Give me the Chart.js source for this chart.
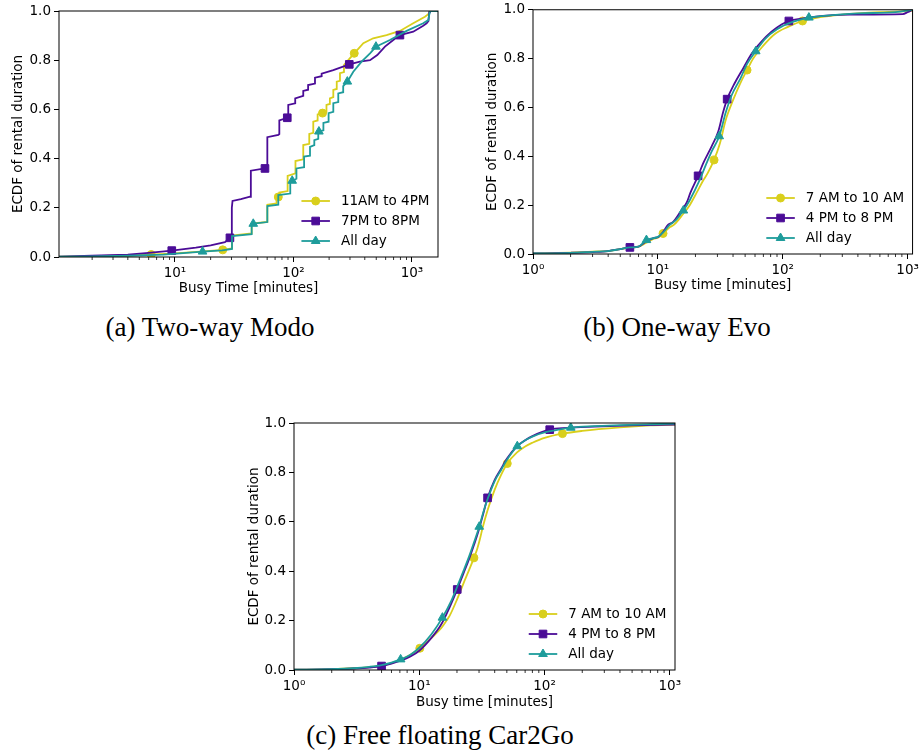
<!DOCTYPE html>
<html><head><meta charset="utf-8">
<script src="https://cdn.jsdelivr.net/npm/chart.js@4.4.1/dist/chart.umd.min.js"></script>
<style>
html,body{margin:0;padding:0;background:#fff;width:922px;height:750px;overflow:hidden;position:relative}
canvas{position:absolute}
.cap{position:absolute;font-family:"Liberation Serif",serif;font-size:27px;line-height:27px;color:#000;white-space:nowrap;transform:translateX(-50%)}
</style></head><body>
<canvas id="ca" width="460" height="300" style="left:0;top:0"></canvas>
<canvas id="cb" width="461" height="300" style="left:461px;top:0"></canvas>
<canvas id="cc" width="460" height="320" style="left:230px;top:400px"></canvas>
<div class="cap" style="left:210px;top:314px">(a) Two-way Modo</div>
<div class="cap" style="left:677px;top:314px">(b) One-way Evo</div>
<div class="cap" style="left:440px;top:722px">(c) Free floating Car2Go</div>
<script>
// ---------- DATA ----------
const Y_TICKS = [0, 0.2, 0.4, 0.6, 0.8, 1.0];

// (a) Two-way Modo
const modoLabels = ['11AM to 4PM', '7PM to 8PM', 'All day'];
const modoMiddayX = [1.05, 2, 4, 6.2, 10, 16.3, 25.3, 30.3, 30.3, 44.4, 44.4, 60.2, 60.2, 72, 72, 76, 76, 89.3, 89.3, 104, 104, 121, 121, 136, 136, 147, 147, 160, 160, 190, 190, 203, 203, 217, 217, 232, 232, 247, 247, 267, 267, 290, 326, 389, 471, 611, 792, 1026, 1288, 1374, 1420, 1660];
const modoMiddayY = [0.001, 0.003, 0.006, 0.01, 0.015, 0.022, 0.029, 0.035, 0.087, 0.096, 0.136, 0.143, 0.212, 0.218, 0.243, 0.245, 0.262, 0.268, 0.33, 0.34, 0.39, 0.397, 0.455, 0.46, 0.5, 0.505, 0.55, 0.555, 0.58, 0.59, 0.618, 0.622, 0.645, 0.65, 0.679, 0.683, 0.713, 0.716, 0.747, 0.752, 0.78, 0.80, 0.828, 0.869, 0.889, 0.902, 0.919, 0.95, 0.977, 0.987, 1.0, 1.0];
const modoMiddayMarkX = [6.3, 25.3, 74.5, 176, 326];
const modoMiddayMarkY = [0.01, 0.029, 0.244, 0.585, 0.828];

const modoEveningX = [1.05, 2, 4, 6, 9.4, 15, 20, 26.4, 29.1, 30, 30.2, 30.6, 36, 43, 43.7, 43.7, 57.5, 60.2, 60.2, 74.5, 76, 76, 88.7, 90.4, 90.4, 103.5, 103.5, 121, 121, 133, 133, 152, 152, 173, 173, 217, 296, 364, 443, 510, 592, 696, 792, 1026, 1245, 1330, 1380, 1400, 1420, 1660];
const modoEveningY = [0.001, 0.005, 0.01, 0.017, 0.026, 0.038, 0.047, 0.06, 0.078, 0.088, 0.2, 0.228, 0.235, 0.245, 0.25, 0.351, 0.36, 0.362, 0.487, 0.496, 0.5, 0.555, 0.566, 0.57, 0.618, 0.625, 0.645, 0.655, 0.675, 0.68, 0.699, 0.705, 0.729, 0.735, 0.745, 0.76, 0.783, 0.794, 0.8, 0.821, 0.855, 0.882, 0.902, 0.916, 0.94, 0.95, 0.96, 0.995, 1.0, 1.0];
const modoEveningMarkX = [9.4, 29.1, 57.5, 88.7, 296, 792];
const modoEveningMarkY = [0.026, 0.078, 0.36, 0.566, 0.783, 0.902];

const modoAllX = [1.05, 2, 4, 8, 17.1, 25, 30.3, 30.3, 44.4, 44.4, 60.2, 60.2, 74.5, 74.5, 94, 94, 106, 106, 123, 123, 138, 138, 150, 150, 162, 162, 179, 179, 198, 198, 217, 217, 239, 239, 263, 263, 285, 320, 376, 443, 497, 652, 902, 1245, 1374, 1420, 1660];
const modoAllY = [0.001, 0.002, 0.005, 0.01, 0.022, 0.027, 0.033, 0.085, 0.093, 0.135, 0.142, 0.207, 0.213, 0.252, 0.258, 0.305, 0.318, 0.36, 0.365, 0.408, 0.412, 0.448, 0.455, 0.475, 0.48, 0.51, 0.515, 0.545, 0.55, 0.585, 0.59, 0.625, 0.63, 0.665, 0.67, 0.695, 0.713, 0.753, 0.794, 0.828, 0.855, 0.882, 0.919, 0.95, 0.963, 1.0, 1.0];
const modoAllMarkX = [17.1, 45.8, 97.6, 164, 285, 497];
const modoAllMarkY = [0.022, 0.135, 0.31, 0.51, 0.713, 0.855];

// (b) One-way Evo
const evoLabels = ['7 AM to 10 AM', '4 PM to 8 PM', 'All day'];
const evoMorningX = [1, 2, 3, 4, 5, 6, 7, 8, 9.2, 10.1, 11, 12.5, 13.5, 16, 18, 20.4, 23, 25, 28.2, 31.3, 35, 40, 45.8, 51.8, 58, 69, 86, 110, 144, 200, 300, 600, 1096];
const evoMorningY = [0.002, 0.006, 0.01, 0.012, 0.02, 0.026, 0.03, 0.045, 0.062, 0.068, 0.084, 0.11, 0.12, 0.165, 0.2, 0.25, 0.3, 0.33, 0.385, 0.45, 0.55, 0.63, 0.7, 0.753, 0.8, 0.85, 0.9, 0.93, 0.954, 0.97, 0.98, 0.99, 0.995];
const evoMorningMarkX = [11, 28.2, 51.8, 144];
const evoMorningMarkY = [0.084, 0.385, 0.753, 0.954];

const evoEveningX = [1, 2, 3, 4, 5, 6, 7, 8, 9.2, 10.1, 11, 12.1, 13.2, 15.5, 17, 18.2, 21, 23, 26.9, 30.4, 33.3, 35.9, 41.3, 48.2, 56.3, 67.6, 81.3, 97.8, 112, 146, 210, 344, 916, 1000, 1096];
const evoEveningY = [0.002, 0.005, 0.008, 0.012, 0.02, 0.027, 0.03, 0.05, 0.065, 0.07, 0.09, 0.12, 0.13, 0.18, 0.21, 0.25, 0.32, 0.37, 0.44, 0.5, 0.58, 0.634, 0.7, 0.76, 0.82, 0.87, 0.91, 0.94, 0.954, 0.965, 0.975, 0.98, 0.982, 0.99, 1.0];
const evoEveningMarkX = [5.97, 21, 35.9, 112];
const evoEveningMarkY = [0.027, 0.32, 0.634, 0.954];

const evoAllX = [1, 2, 3, 4, 5, 6, 7, 8.1, 10, 11, 12.5, 14, 16, 18, 21.5, 24, 27, 31, 35, 39, 46, 52, 60.8, 72, 90, 120, 162, 250, 400, 800, 1096];
const evoAllY = [0.002, 0.005, 0.009, 0.012, 0.02, 0.027, 0.03, 0.057, 0.07, 0.088, 0.12, 0.14, 0.178, 0.22, 0.3, 0.36, 0.42, 0.482, 0.58, 0.65, 0.72, 0.78, 0.83, 0.88, 0.92, 0.95, 0.968, 0.978, 0.985, 0.99, 1.0];
const evoAllMarkX = [8.1, 16, 31, 60.8, 162];
const evoAllMarkY = [0.057, 0.178, 0.482, 0.83, 0.968];

// (c) Free floating Car2Go
const c2gLabels = ['7 AM to 10 AM', '4 PM to 8 PM', 'All day'];
const c2gMorningX = [1, 2, 3, 4, 5, 6, 7, 8.5, 10.1, 12.5, 15, 16.5, 17.5, 20, 22.5, 25, 27.3, 29, 30.5, 32, 35, 40, 45, 50.4, 60, 70, 80, 100, 139, 200, 400, 700, 1100];
const c2gMorningY = [0.001, 0.003, 0.007, 0.012, 0.018, 0.028, 0.04, 0.062, 0.088, 0.13, 0.17, 0.2, 0.22, 0.285, 0.35, 0.405, 0.454, 0.49, 0.53, 0.575, 0.645, 0.73, 0.79, 0.836, 0.88, 0.905, 0.92, 0.94, 0.957, 0.968, 0.982, 0.99, 0.994];
const c2gMorningMarkX = [10.1, 27.3, 50.4, 139];
const c2gMorningMarkY = [0.088, 0.454, 0.836, 0.957];

const c2gEveningX = [1, 2, 3, 4, 5, 6, 7, 8.5, 10, 12.5, 15, 17.5, 20.1, 22.5, 25, 27.5, 30, 32.5, 35.1, 40, 45, 50, 60, 70, 80, 110, 150, 250, 500, 1100];
const c2gEveningY = [0.001, 0.003, 0.006, 0.01, 0.016, 0.026, 0.037, 0.055, 0.078, 0.13, 0.185, 0.255, 0.326, 0.39, 0.45, 0.51, 0.57, 0.635, 0.697, 0.77, 0.815, 0.855, 0.905, 0.93, 0.947, 0.973, 0.98, 0.985, 0.99, 0.994];
const c2gEveningMarkX = [5, 20.1, 35.1, 110];
const c2gEveningMarkY = [0.016, 0.326, 0.697, 0.973];

const c2gAllX = [1, 2, 3, 4, 5, 6, 7.1, 8.5, 10, 12.5, 15.3, 18, 20, 22.5, 25, 27.5, 30.1, 32.5, 35, 40, 45, 50, 60.6, 70, 80, 100, 130, 162, 250, 400, 700, 1100];
const c2gAllY = [0.001, 0.003, 0.007, 0.013, 0.02, 0.03, 0.043, 0.062, 0.09, 0.145, 0.212, 0.28, 0.335, 0.4, 0.46, 0.52, 0.58, 0.64, 0.69, 0.765, 0.81, 0.85, 0.906, 0.93, 0.945, 0.962, 0.973, 0.981, 0.987, 0.991, 0.995, 0.998];
const c2gAllMarkX = [7.1, 15.3, 30.1, 60.6, 162];
const c2gAllMarkY = [0.043, 0.212, 0.58, 0.906, 0.981];

// ---------- STYLE ----------
Chart.defaults.font.family = "'DejaVu Sans', sans-serif";
Chart.defaults.font.size = 13.5;
Chart.defaults.color = '#000';

const SERIES_COLORS = ['#d9cf1c', '#4b0c97', '#1e9c9b'];
const SERIES_STYLES = ['circle', 'rect', 'triangle'];
const MARKER_RADIUS = {circle: 4, rect: 5.4, triangle: 5};
const SUP = ['\u2070', '\u00b9', '\u00b2', '\u00b3'];

function isPow10(v) { const l = Math.log10(v); return Math.abs(l - Math.round(l)) < 1e-9; }
function pts(xs, ys) { return xs.map((x, i) => ({x: x, y: ys[i]})); }
function logTicks(min, max) {
  const out = [];
  for (let e = 0; e <= 3; e++) for (let m = 1; m <= 9; m++) {
    const v = m * Math.pow(10, e);
    if (v >= min - 1e-9 && v <= max + 1e-9) out.push(v);
  }
  return out;
}

function drawMarker(ctx, style, x, y, color) {
  const r = MARKER_RADIUS[style];
  ctx.fillStyle = color; ctx.strokeStyle = color; ctx.lineWidth = 1;
  ctx.beginPath();
  if (style === 'circle') {
    ctx.arc(x, y, r, 0, Math.PI * 2);
  } else if (style === 'rect') {
    const h = r * Math.SQRT1_2;
    ctx.rect(x - h, y - h, 2 * h, 2 * h);
  } else {
    ctx.moveTo(x, y - r);
    ctx.lineTo(x + r * Math.sin(2 * Math.PI / 3), y - r * Math.cos(2 * Math.PI / 3));
    ctx.lineTo(x + r * Math.sin(4 * Math.PI / 3), y - r * Math.cos(4 * Math.PI / 3));
    ctx.closePath();
  }
  ctx.fill(); ctx.stroke();
}

const decor = {
  id: 'decor',
  afterDraw(chart, args, opts) {
    const ctx = chart.ctx, a = chart.chartArea, xs = chart.scales.x;
    ctx.save();
    // minor x ticks
    ctx.strokeStyle = '#000'; ctx.lineWidth = 0.8;
    xs.ticks.forEach(t => {
      if (isPow10(t.value)) return;
      const px = xs.getPixelForValue(t.value);
      ctx.beginPath(); ctx.moveTo(px, a.bottom); ctx.lineTo(px, a.bottom + 3); ctx.stroke();
    });
    // frame
    ctx.lineWidth = 1; ctx.strokeStyle = '#000';
    ctx.strokeRect(a.left, a.top, a.right - a.left, a.bottom - a.top);
    // legend
    const items = opts.items || [];
    ctx.font = "13.5px 'DejaVu Sans'";
    let maxW = 0;
    items.forEach(it => { maxW = Math.max(maxW, ctx.measureText(it.label).width); });
    const textX = a.right - 8.5 - maxW;
    const l0 = textX - 39.5, l1 = textX - 11;
    items.forEach((it, i) => {
      const y = a.bottom - 16 - (items.length - 1 - i) * 20;
      ctx.strokeStyle = it.color; ctx.lineWidth = 1.8;
      ctx.beginPath(); ctx.moveTo(l0, y); ctx.lineTo(l1, y); ctx.stroke();
      drawMarker(ctx, it.style, (l0 + l1) / 2, y, it.color);
      ctx.fillStyle = '#000'; ctx.textBaseline = 'middle'; ctx.textAlign = 'left';
      ctx.fillText(it.label, textX, y);
    });
    ctx.restore();
  }
};

function makeChart(id, cfg) {
  const datasets = [];
  cfg.series.forEach((s, i) => {
    const color = SERIES_COLORS[i], style = SERIES_STYLES[i];
    const order = (3 - i) * 2;
    datasets.push({
      label: s.label, data: pts(s.x, s.y), showLine: true,
      borderColor: color, backgroundColor: color, borderWidth: 1.8,
      pointRadius: 0, tension: 0,
      cubicInterpolationMode: cfg.smooth ? 'monotone' : 'default',
      order: order
    });
    datasets.push({
      label: s.label + ' (markers)', data: pts(s.mx, s.my), showLine: false,
      pointStyle: style, pointRadius: MARKER_RADIUS[style],
      borderColor: color, backgroundColor: color, borderWidth: 1,
      order: order - 1
    });
  });
  const items = cfg.series.map((s, i) => ({label: s.label, color: SERIES_COLORS[i], style: SERIES_STYLES[i]}));
  const tickCol = c => (c.tick && c.scale.axis === 'x' && !isPow10(c.tick.value)) ? 'rgba(0,0,0,0)' : '#000';
  return new Chart(document.getElementById(id), {
    type: 'scatter',
    data: {datasets: datasets},
    plugins: [decor],
    options: {
      responsive: false, animation: false, devicePixelRatio: 1, events: [],
      layout: {padding: cfg.padding},
      plugins: {legend: {display: false}, tooltip: {enabled: false}, decor: {items: items}},
      scales: {
        x: {
          type: 'logarithmic', position: 'bottom', min: cfg.xMin, max: cfg.xMax,
          afterBuildTicks: sc => { sc.ticks = logTicks(cfg.xMin, cfg.xMax).map(v => ({value: v})); },
          afterFit: sc => { sc.height = cfg.xAxisHeight; },
          ticks: {
            autoSkip: false, maxRotation: 0, minRotation: 0, padding: 3,
            callback: v => isPow10(v) ? '10' + SUP[Math.round(Math.log10(v))] : ''
          },
          grid: {display: true, drawOnChartArea: false, drawTicks: true, tickLength: 5, tickWidth: 1, tickColor: tickCol},
          border: {display: false},
          title: {display: true, text: cfg.xTitle, padding: {top: 0, bottom: cfg.xTitlePad}}
        },
        y: {
          type: 'linear', min: 0, max: 1,
          afterBuildTicks: sc => { sc.ticks = Y_TICKS.map(v => ({value: v})); },
          afterFit: sc => { sc.width = cfg.yAxisWidth; },
          ticks: {padding: 3, callback: v => Number(v).toFixed(1), font: {size: 13.5, lineHeight: 1}},
          grid: {display: true, drawOnChartArea: false, drawTicks: true, tickLength: 5, tickWidth: 1, tickColor: '#000'},
          border: {display: false},
          title: {display: true, text: 'ECDF of rental duration', padding: {top: cfg.yTitlePad, bottom: 0}}
        }
      }
    }
  });
}

makeChart('ca', {
  xMin: 1.05, xMax: 1660, smooth: false,
  padding: {left: 0, top: 11, right: 22, bottom: 0},
  yAxisWidth: 59, xAxisHeight: 43, xTitlePad: 3, yTitlePad: 10.4,
  xTitle: 'Busy Time [minutes]',
  series: [
    {label: modoLabels[0], x: modoMiddayX, y: modoMiddayY, mx: modoMiddayMarkX, my: modoMiddayMarkY},
    {label: modoLabels[1], x: modoEveningX, y: modoEveningY, mx: modoEveningMarkX, my: modoEveningMarkY},
    {label: modoLabels[2], x: modoAllX, y: modoAllY, mx: modoAllMarkX, my: modoAllMarkY}
  ]
});
makeChart('cb', {
  xMin: 1, xMax: 1096, smooth: true,
  padding: {left: 0, top: 7, right: 9, bottom: 0},
  yAxisWidth: 72, xAxisHeight: 46, xTitlePad: 6, yTitlePad: 23,
  xTitle: 'Busy time [minutes]',
  series: [
    {label: evoLabels[0], x: evoMorningX, y: evoMorningY, mx: evoMorningMarkX, my: evoMorningMarkY},
    {label: evoLabels[1], x: evoEveningX, y: evoEveningY, mx: evoEveningMarkX, my: evoEveningMarkY},
    {label: evoLabels[2], x: evoAllX, y: evoAllY, mx: evoAllMarkX, my: evoAllMarkY}
  ]
});
makeChart('cc', {
  xMin: 1, xMax: 1100, smooth: true,
  padding: {left: 0, top: 23, right: 15, bottom: 0},
  yAxisWidth: 64, xAxisHeight: 50, xTitlePad: 9.4, yTitlePad: 16,
  xTitle: 'Busy time [minutes]',
  series: [
    {label: c2gLabels[0], x: c2gMorningX, y: c2gMorningY, mx: c2gMorningMarkX, my: c2gMorningMarkY},
    {label: c2gLabels[1], x: c2gEveningX, y: c2gEveningY, mx: c2gEveningMarkX, my: c2gEveningMarkY},
    {label: c2gLabels[2], x: c2gAllX, y: c2gAllY, mx: c2gAllMarkX, my: c2gAllMarkY}
  ]
});
</script>
</body></html>
